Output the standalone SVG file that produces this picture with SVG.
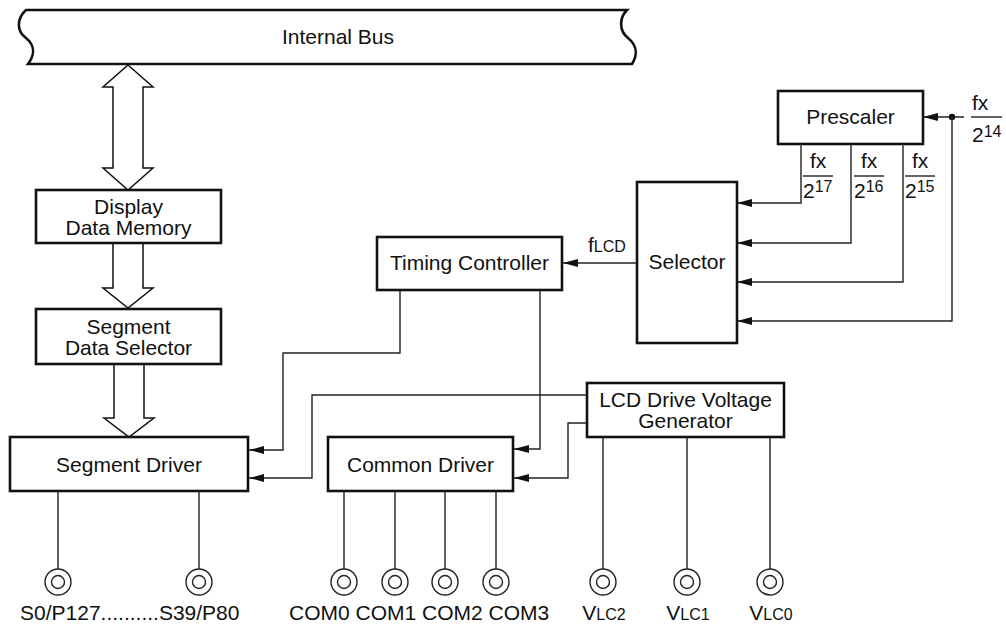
<svg xmlns="http://www.w3.org/2000/svg" width="1006" height="628" viewBox="0 0 1006 628">
<style>
.box{fill:#fff;stroke:#111;stroke-width:2.6}
.t{font-family:"Liberation Sans",Arial,sans-serif;font-size:21px;fill:#111}
.s{font-size:16px}
.c{fill:none;stroke:#222;stroke-width:1.4}
.hollow{fill:#fff;stroke:#111;stroke-width:1.5;stroke-linejoin:miter}
.pin{fill:#fff;stroke:#222;stroke-width:1.4}
.bar{stroke:#222;stroke-width:1.4}
</style>
<defs>
<marker id="ah" markerUnits="userSpaceOnUse" markerWidth="16" markerHeight="10" refX="15" refY="4.5" orient="auto">
<path d="M0,0.5 L15,4.5 L0,8.5 z" fill="#111"/>
</marker>
</defs>
<rect width="1006" height="628" fill="#fff"/>

<g id="internal-bus">
<path class="box" d="M26,10 L627,10 C619,18 619,31 628,38 C638,46 637,56 632,64 L28,64 C34,56 36,46 26,38 C16,31 17,18 26,10 Z"/>
<text class="t" x="338" y="44" text-anchor="middle">Internal Bus</text>
</g>

<g id="bus-arrows">
<path class="hollow" d="M128,65 L153,87 L143,87 L143,168 L153,168 L128,190 L103,168 L113,168 L113,87 L103,87 Z"/>
<path class="hollow" d="M113,243 L143,243 L143,288 L153,288 L128,308 L103,288 L113,288 Z"/>
<path class="hollow" d="M114,364 L144,364 L144,418 L154,418 L129,437 L104,418 L114,418 Z"/>
</g>

<g id="display-data-memory">
<rect class="box" x="36" y="190" width="185" height="53"/>
<text class="t" x="128.5" y="214" text-anchor="middle">Display</text>
<text class="t" x="128.5" y="235" text-anchor="middle">Data Memory</text>
</g>

<g id="segment-data-selector">
<rect class="box" x="36" y="309" width="185" height="55"/>
<text class="t" x="128.5" y="334" text-anchor="middle">Segment</text>
<text class="t" x="128.5" y="355" text-anchor="middle">Data Selector</text>
</g>

<g id="segment-driver">
<rect class="box" x="10" y="437" width="238" height="54"/>
<text class="t" x="129" y="472" text-anchor="middle">Segment Driver</text>
</g>

<g id="timing-controller">
<rect class="box" x="377" y="237" width="185" height="53"/>
<text class="t" x="469.5" y="270" text-anchor="middle">Timing Controller</text>
</g>

<g id="selector">
<rect class="box" x="637" y="182" width="100" height="161"/>
<text class="t" x="687" y="269" text-anchor="middle">Selector</text>
</g>

<g id="prescaler">
<rect class="box" x="778" y="91" width="145" height="53"/>
<text class="t" x="850.5" y="124" text-anchor="middle">Prescaler</text>
</g>

<g id="lcd-drive-voltage-generator">
<rect class="box" x="587" y="383" width="197" height="54"/>
<text class="t" x="685.5" y="407" text-anchor="middle">LCD Drive Voltage</text>
<text class="t" x="685.5" y="428" text-anchor="middle">Generator</text>
</g>

<g id="common-driver">
<rect class="box" x="328" y="437" width="185" height="54"/>
<text class="t" x="420.5" y="472" text-anchor="middle">Common Driver</text>
</g>

<g id="connectors">
<path class="c" d="M964,117 H923" marker-end="url(#ah)"/>
<circle cx="952" cy="117" r="3.2" fill="#111"/>
<path class="c" d="M801,144 V203 H737" marker-end="url(#ah)"/>
<path class="c" d="M851,144 V243 H737" marker-end="url(#ah)"/>
<path class="c" d="M903,144 V282 H737" marker-end="url(#ah)"/>
<path class="c" d="M952,117 V321 H737" marker-end="url(#ah)"/>
<path class="c" d="M637,263 H563" marker-end="url(#ah)"/>
<path class="c" d="M400,290 V353 H283 V450 H249" marker-end="url(#ah)"/>
<path class="c" d="M587,395 H312 V478 H249" marker-end="url(#ah)"/>
<path class="c" d="M540,290 V449 H514" marker-end="url(#ah)"/>
<path class="c" d="M587,423 H568 V478 H514" marker-end="url(#ah)"/>
<path class="c" d="M58,491 V569 M199,491 V569 M344,491 V569 M395,491 V569 M445,491 V569 M496,491 V569 M603,437 V569 M687,437 V569 M770,437 V569"/>
</g>

<g id="frequency-labels">
<text class="t" x="972" y="110">fx</text>
<line class="bar" x1="971" y1="117" x2="1002" y2="117"/>
<text class="t" x="972" y="142">2<tspan class="s" dy="-5">14</tspan></text>

<text class="t" x="810" y="168">fx</text>
<line class="bar" x1="803" y1="176" x2="833" y2="176"/>
<text class="t" x="803" y="198">2<tspan class="s" dy="-6">17</tspan></text>

<text class="t" x="861" y="168">fx</text>
<line class="bar" x1="854" y1="176" x2="884" y2="176"/>
<text class="t" x="854" y="198">2<tspan class="s" dy="-6">16</tspan></text>

<text class="t" x="912" y="168">fx</text>
<line class="bar" x1="905" y1="176" x2="935" y2="176"/>
<text class="t" x="905" y="198">2<tspan class="s" dy="-6">15</tspan></text>

<text class="t" x="588" y="252">f<tspan class="s">LCD</tspan></text>
</g>

<g id="pins">
<g id="pin-s0"><circle class="pin" cx="58" cy="582" r="13"/><circle class="pin" cx="58" cy="582" r="6.5"/></g>
<g id="pin-s39"><circle class="pin" cx="199" cy="582" r="13"/><circle class="pin" cx="199" cy="582" r="6.5"/></g>
<g id="pin-com0"><circle class="pin" cx="344" cy="582" r="13"/><circle class="pin" cx="344" cy="582" r="6.5"/></g>
<g id="pin-com1"><circle class="pin" cx="395" cy="582" r="13"/><circle class="pin" cx="395" cy="582" r="6.5"/></g>
<g id="pin-com2"><circle class="pin" cx="445" cy="582" r="13"/><circle class="pin" cx="445" cy="582" r="6.5"/></g>
<g id="pin-com3"><circle class="pin" cx="496" cy="582" r="13"/><circle class="pin" cx="496" cy="582" r="6.5"/></g>
<g id="pin-vlc2"><circle class="pin" cx="603" cy="582" r="13"/><circle class="pin" cx="603" cy="582" r="6.5"/></g>
<g id="pin-vlc1"><circle class="pin" cx="687" cy="582" r="13"/><circle class="pin" cx="687" cy="582" r="6.5"/></g>
<g id="pin-vlc0"><circle class="pin" cx="770" cy="582" r="13"/><circle class="pin" cx="770" cy="582" r="6.5"/></g>
<text class="t" x="20" y="620">S0/P127..........S39/P80</text>
<text class="t" x="289" y="620">COM0 COM1 COM2 COM3</text>
<text class="t" x="604" y="620" text-anchor="middle">V<tspan class="s">LC2</tspan></text>
<text class="t" x="688" y="620" text-anchor="middle">V<tspan class="s">LC1</tspan></text>
<text class="t" x="771" y="620" text-anchor="middle">V<tspan class="s">LC0</tspan></text>
</g>
</svg>
